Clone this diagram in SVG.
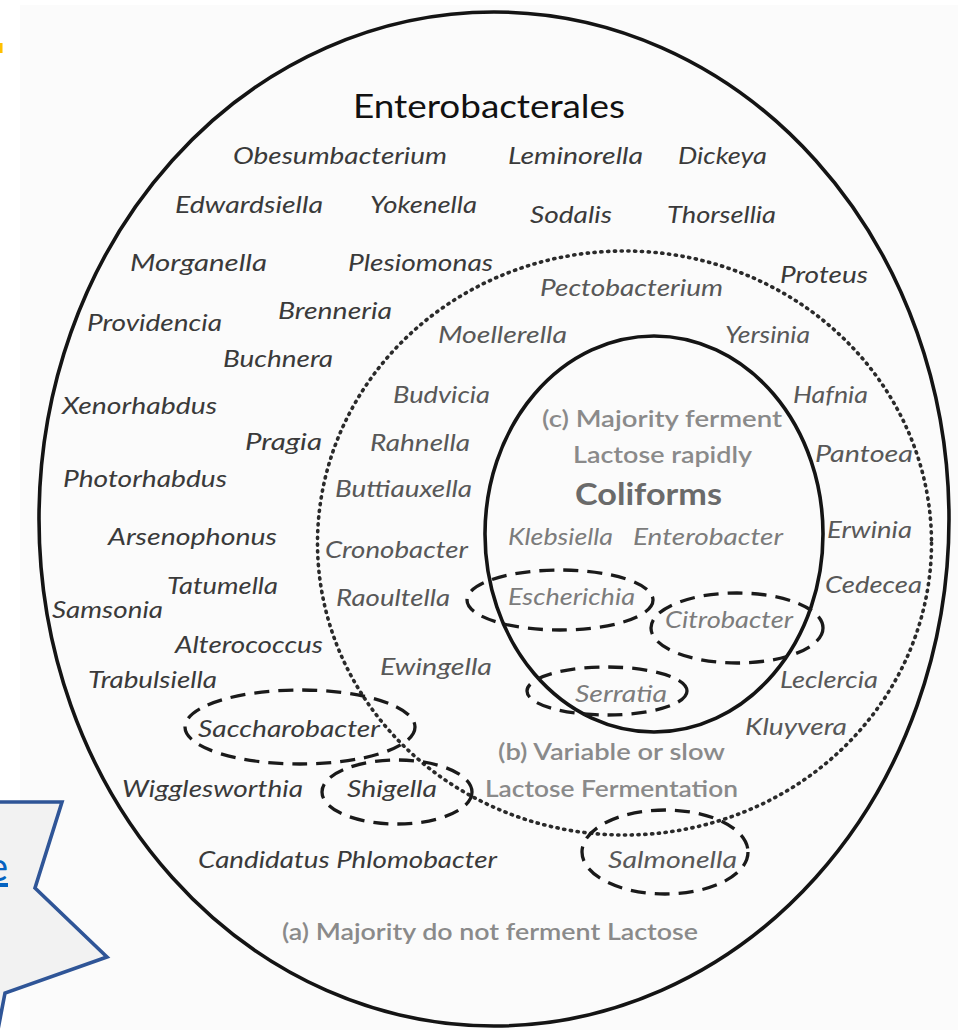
<svg xmlns="http://www.w3.org/2000/svg" width="958" height="1030" viewBox="0 0 958 1030">
<style>
text{font-family:Lato,"Open Sans","Liberation Sans",sans-serif;}
.o{font-size:24px;font-style:italic;fill:#3a3a3a;}
.m{font-size:24px;font-style:italic;fill:#585858;}
.i{font-size:24px;font-style:italic;fill:#7c7c7c;}
.l{font-size:23px;font-weight:600;fill:#8a8a8a;}
.solid{fill:none;stroke:#141414;stroke-width:3.6;}
.dash{fill:none;stroke:#1a1a1a;stroke-width:3.3;stroke-dasharray:15 9;}
.dot{fill:none;stroke:#2a2a2a;stroke-width:3.6;stroke-dasharray:1.2 5.6;stroke-linecap:round;}
</style>
<rect x="0" y="0" width="958" height="1030" fill="#ffffff"/>
<rect x="20" y="5" width="938" height="1025" fill="#fbfbfb"/>
<rect x="0" y="43" width="2.5" height="10" fill="#ffc000"/>

<g id="region-a">
<ellipse class="solid" cx="494" cy="519" rx="455" ry="507"/>
</g>
<g id="region-b">
<ellipse class="dot" cx="624.5" cy="543" rx="307" ry="292"/>
</g>
<g id="region-c">
<ellipse class="solid" cx="654" cy="534" rx="169" ry="198"/>
</g>

<g id="connectors"></g>

<g id="title">
<text x="353" y="118" font-size="32" fill="#111" textLength="272" lengthAdjust="spacingAndGlyphs">Enterobacterales</text>
</g>

<g id="outer-genera">
<text class="o" x="233" y="164" textLength="214" lengthAdjust="spacingAndGlyphs">Obesumbacterium</text>
<text class="o" x="175" y="213" textLength="148" lengthAdjust="spacingAndGlyphs">Edwardsiella</text>
<text class="o" x="370" y="213" textLength="107" lengthAdjust="spacingAndGlyphs">Yokenella</text>
<text class="o" x="130" y="271" textLength="137" lengthAdjust="spacingAndGlyphs">Morganella</text>
<text class="o" x="348" y="271" textLength="145" lengthAdjust="spacingAndGlyphs">Plesiomonas</text>
<text class="o" x="278" y="319" textLength="114" lengthAdjust="spacingAndGlyphs">Brenneria</text>
<text class="o" x="87" y="331" textLength="135" lengthAdjust="spacingAndGlyphs">Providencia</text>
<text class="o" x="223" y="367" textLength="110" lengthAdjust="spacingAndGlyphs">Buchnera</text>
<text class="o" x="508" y="164" textLength="135" lengthAdjust="spacingAndGlyphs">Leminorella</text>
<text class="o" x="678" y="164" textLength="89" lengthAdjust="spacingAndGlyphs">Dickeya</text>
<text class="o" x="530" y="223" textLength="82" lengthAdjust="spacingAndGlyphs">Sodalis</text>
<text class="o" x="667" y="223" textLength="109" lengthAdjust="spacingAndGlyphs">Thorsellia</text>
<text class="o" x="780" y="283" textLength="88" lengthAdjust="spacingAndGlyphs">Proteus</text>
<text class="o" x="62" y="414" textLength="155" lengthAdjust="spacingAndGlyphs">Xenorhabdus</text>
<text class="o" x="245" y="450" textLength="77" lengthAdjust="spacingAndGlyphs">Pragia</text>
<text class="o" x="63" y="487" textLength="164" lengthAdjust="spacingAndGlyphs">Photorhabdus</text>
<text class="o" x="108" y="545" textLength="169" lengthAdjust="spacingAndGlyphs">Arsenophonus</text>
<text class="o" x="167" y="594" textLength="111" lengthAdjust="spacingAndGlyphs">Tatumella</text>
<text class="o" x="52" y="618" textLength="111" lengthAdjust="spacingAndGlyphs">Samsonia</text>
<text class="o" x="175" y="653" textLength="148" lengthAdjust="spacingAndGlyphs">Alterococcus</text>
<text class="o" x="88" y="688" textLength="129" lengthAdjust="spacingAndGlyphs">Trabulsiella</text>
<text class="o" x="122" y="797" textLength="181" lengthAdjust="spacingAndGlyphs">Wigglesworthia</text>
<text class="o" x="198" y="868" textLength="299" lengthAdjust="spacingAndGlyphs">Candidatus Phlomobacter</text>
</g>

<g id="middle-genera">
<text class="m" x="540" y="296" textLength="183" lengthAdjust="spacingAndGlyphs">Pectobacterium</text>
<text class="m" x="438" y="343" textLength="129" lengthAdjust="spacingAndGlyphs">Moellerella</text>
<text class="m" x="725" y="343" textLength="85" lengthAdjust="spacingAndGlyphs">Yersinia</text>
<text class="m" x="393" y="403" textLength="97" lengthAdjust="spacingAndGlyphs">Budvicia</text>
<text class="m" x="370" y="451" textLength="100" lengthAdjust="spacingAndGlyphs">Rahnella</text>
<text class="m" x="335" y="497" textLength="137" lengthAdjust="spacingAndGlyphs">Buttiauxella</text>
<text class="m" x="325" y="558" textLength="143" lengthAdjust="spacingAndGlyphs">Cronobacter</text>
<text class="m" x="336" y="606" textLength="114" lengthAdjust="spacingAndGlyphs">Raoultella</text>
<text class="m" x="380" y="675" textLength="112" lengthAdjust="spacingAndGlyphs">Ewingella</text>
<text class="m" x="793" y="403" textLength="75" lengthAdjust="spacingAndGlyphs">Hafnia</text>
<text class="m" x="815" y="462" textLength="98" lengthAdjust="spacingAndGlyphs">Pantoea</text>
<text class="m" x="827" y="538" textLength="85" lengthAdjust="spacingAndGlyphs">Erwinia</text>
<text class="m" x="825" y="593" textLength="97" lengthAdjust="spacingAndGlyphs">Cedecea</text>
<text class="m" x="780" y="688" textLength="98" lengthAdjust="spacingAndGlyphs">Leclercia</text>
<text class="m" x="745" y="735" textLength="102" lengthAdjust="spacingAndGlyphs">Kluyvera</text>
</g>

<g id="coliform-genera">
<text class="i" x="508" y="545" textLength="105" lengthAdjust="spacingAndGlyphs">Klebsiella</text>
<text class="i" x="633" y="545" textLength="150" lengthAdjust="spacingAndGlyphs">Enterobacter</text>
</g>

<g id="escherichia">
<ellipse class="dash" cx="560" cy="600" rx="93" ry="30"/>
<text class="i" x="508" y="605" textLength="127" lengthAdjust="spacingAndGlyphs">Escherichia</text>
</g>
<g id="citrobacter">
<ellipse class="dash" cx="737" cy="628" rx="86" ry="35"/>
<text class="i" x="665" y="628" textLength="128" lengthAdjust="spacingAndGlyphs">Citrobacter</text>
</g>
<g id="serratia">
<ellipse class="dash" cx="607" cy="691" rx="80" ry="24"/>
<text class="i" x="575" y="702" textLength="92" lengthAdjust="spacingAndGlyphs">Serratia</text>
</g>
<g id="saccharobacter">
<ellipse class="dash" cx="300" cy="727" rx="115" ry="37"/>
<text class="o" x="198" y="737" textLength="182" lengthAdjust="spacingAndGlyphs">Saccharobacter</text>
</g>
<g id="shigella">
<ellipse class="dash" cx="397" cy="792" rx="75" ry="32"/>
<text class="o" x="347" y="797" textLength="90" lengthAdjust="spacingAndGlyphs">Shigella</text>
</g>
<g id="salmonella">
<ellipse class="dash" cx="665" cy="852" rx="83" ry="42"/>
<text class="m" x="608" y="868" textLength="129" lengthAdjust="spacingAndGlyphs">Salmonella</text>
</g>

<g id="labels">
<text class="l" x="542" y="427" textLength="240" lengthAdjust="spacingAndGlyphs">(c) Majority ferment</text>
<text class="l" x="573" y="463" textLength="179" lengthAdjust="spacingAndGlyphs">Lactose rapidly</text>
<text x="575" y="505" font-size="30" font-weight="bold" fill="#6a6a6a" textLength="147" lengthAdjust="spacingAndGlyphs">Coliforms</text>
<text class="l" x="498" y="760" textLength="227" lengthAdjust="spacingAndGlyphs">(b) Variable or slow</text>
<text class="l" x="485" y="797" textLength="253" lengthAdjust="spacingAndGlyphs">Lactose Fermentation</text>
<text class="l" x="282" y="940" textLength="416" lengthAdjust="spacingAndGlyphs">(a) Majority do not ferment Lactose</text>
</g>

<g id="callout">
<polygon points="-5,802 62,802 35,888 107,957 5,993 -4,1040 -5,1040" fill="#f2f2f2" stroke="#2f5597" stroke-width="3.6" stroke-linejoin="miter"/>
<text x="8" y="881" font-size="40" fill="#0563c1" text-anchor="end" text-decoration="underline">e</text>
</g>
</svg>
